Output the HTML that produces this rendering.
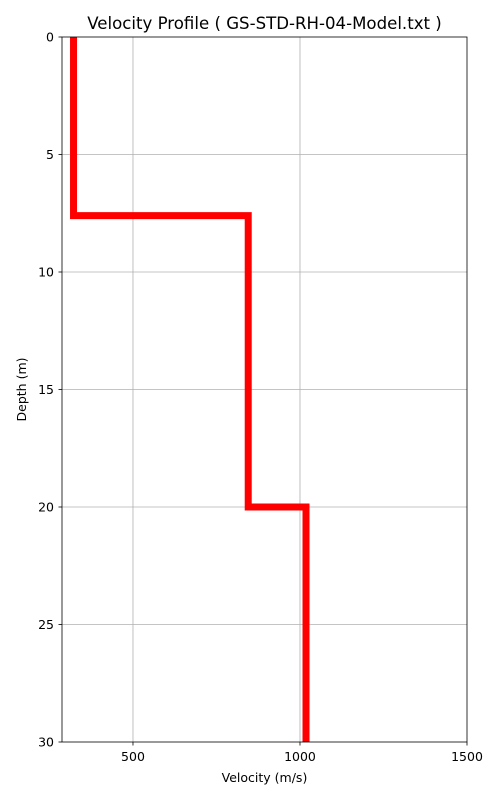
<!DOCTYPE html>
<html><head><meta charset="utf-8"><style>
body{margin:0;background:#fff;}
svg{font-family:"DejaVu Sans","Liberation Sans",sans-serif;}
</style></head><body>
<svg id="chart" width="500" height="800"></svg>
<script>
const depthTops=[0,7.6,20];
const depthBottoms=[7.6,20,30];
const velocities=[322,845,1018];
const xTicks=[500,1000,1500];
const yTicks=[0,5,10,15,20,25,30];
const L=62,R=467,T=37,B=742,xMin=287.5,xMax=1500,yMin=0,yMax=30;
const sx=v=>L+(v-xMin)/(xMax-xMin)*(R-L);
const sy=d=>T+(d-yMin)/(yMax-yMin)*(B-T);
const svg=document.getElementById('chart');
const NS='http://www.w3.org/2000/svg';
function mk(tag,attrs,parent){const e=document.createElementNS(NS,tag);for(const k in attrs)e.setAttribute(k,attrs[k]);(parent||svg).appendChild(e);return e;}
const grid=mk('g',{});


xTicks.forEach(v=>{const x=sx(v);
 if(x<R-1){const l=mk('line',{x1:x,x2:x,y1:T,y2:B,stroke:'#b0b0b0','stroke-width':0.8},grid);
 }
 const t=mk('line',{x1:x,x2:x,y1:B,y2:B+3.5,stroke:'#000','stroke-width':0.8});
 
 const tx=mk('text',{x:x,y:B+19,'font-size':12.5,'text-anchor':'middle'});tx.textContent=v;
 
});
yTicks.forEach(v=>{const y=sy(v);
 if(y>T+1&&y<B-1){const l=mk('line',{x1:L,x2:R,y1:y,y2:y,stroke:'#b0b0b0','stroke-width':0.8},grid);
 }
 const t=mk('line',{x1:L-3.5,x2:L,y1:y,y2:y,stroke:'#000','stroke-width':0.8});
 
 const tx=mk('text',{x:L-8,y:y+4.5,'font-size':12.5,'text-anchor':'end'});tx.textContent=v;
 
});
let pts=[];
velocities.forEach((v,i)=>{pts.push([sx(v),sy(depthTops[i])]);pts.push([sx(v),sy(depthBottoms[i])]);});
const line=mk('polyline',{points:pts.map(p=>p.join(',')).join(' '),fill:'none',stroke:'#ff0000','stroke-width':7,'stroke-linejoin':'miter'});


const frame=mk('rect',{x:L,y:T,width:R-L,height:B-T,fill:'none',stroke:'#000','stroke-width':0.8});


const title=mk('text',{x:(L+R)/2,y:29,'font-size':16.6,'text-anchor':'middle'});
title.textContent='Velocity Profile ( GS-STD-RH-04-Model.txt )';


const xl=mk('text',{x:(L+R)/2,y:782,'font-size':12.5,'text-anchor':'middle'});
xl.textContent='Velocity (m/s)';


const yl=mk('text',{x:26,y:(T+B)/2,'font-size':12.5,'text-anchor':'middle',transform:`rotate(-90 26 ${(T+B)/2})`});
yl.textContent='Depth (m)';


</script>
</body></html>
